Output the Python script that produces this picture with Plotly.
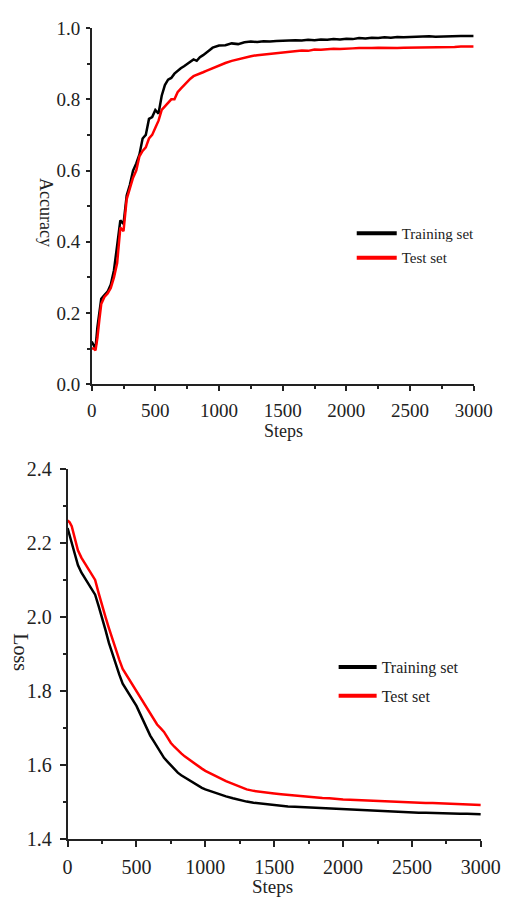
import plotly.graph_objects as go

W, H = 527, 908

steps = [0, 15, 30, 45, 60, 75,
         100, 125, 150, 175, 200, 225, 250, 275, 300, 325, 350, 375, 400, 425, 450, 475,
         500, 525, 550, 575, 600, 625, 650, 675, 700, 725, 750, 775, 800, 825, 850, 875,
         900, 925, 950, 975, 1000,
         1050, 1100, 1150, 1200, 1250, 1300, 1350, 1400, 1450, 1500,
         1550, 1600, 1650, 1700, 1750, 1800, 1850, 1900, 1950, 2000,
         2050, 2100, 2150, 2200, 2250, 2300, 2350, 2400, 2450, 2500,
         2550, 2600, 2650, 2700, 2750, 2800, 2850, 2900, 2950, 3000]

acc_train = [0.12, 0.11, 0.10, 0.16, 0.20, 0.24,
             0.25, 0.26, 0.28, 0.32, 0.39, 0.46, 0.45, 0.53, 0.56, 0.60, 0.62, 0.645, 0.69, 0.70, 0.745, 0.75,
             0.77, 0.76, 0.81, 0.84, 0.855, 0.86, 0.872, 0.88, 0.887, 0.893, 0.90, 0.905, 0.912, 0.908, 0.918, 0.924,
             0.93, 0.938, 0.945, 0.947, 0.951,
             0.952, 0.957, 0.955, 0.960, 0.962, 0.961, 0.963, 0.962, 0.964, 0.965,
             0.964, 0.966, 0.965, 0.967, 0.966, 0.968, 0.967, 0.969, 0.968, 0.970,
             0.969, 0.972, 0.971, 0.973, 0.972, 0.974, 0.973, 0.975, 0.974, 0.975,
             0.976, 0.975, 0.977, 0.976, 0.977, 0.978, 0.977, 0.978, 0.978, 0.978]

acc_test = [0.10, 0.10, 0.095, 0.13, 0.18, 0.225,
            0.245, 0.255, 0.27, 0.30, 0.34, 0.44, 0.43, 0.52, 0.55, 0.58, 0.60, 0.64, 0.655, 0.665, 0.69, 0.70,
            0.72, 0.74, 0.77, 0.78, 0.79, 0.80, 0.80, 0.82, 0.83, 0.84, 0.85, 0.858, 0.865, 0.868, 0.872, 0.876,
            0.88, 0.884, 0.888, 0.892, 0.895,
            0.902, 0.908, 0.913, 0.918, 0.921, 0.924, 0.926, 0.928, 0.930, 0.932,
            0.933, 0.935, 0.937, 0.936, 0.940, 0.939, 0.941, 0.942, 0.941, 0.943,
            0.943, 0.944, 0.943, 0.944, 0.945, 0.944, 0.945, 0.944, 0.945, 0.945,
            0.946, 0.945, 0.946, 0.946, 0.947, 0.946, 0.947, 0.948, 0.947, 0.948]

loss_train = [2.24, 2.22, 2.20, 2.175, 2.16, 2.14,
              2.12, 2.105, 2.09, 2.075, 2.06, 2.03, 2.00, 1.965, 1.93, 1.90, 1.87, 1.845, 1.82, 1.805, 1.79, 1.775,
              1.76, 1.74, 1.72, 1.70, 1.68, 1.665, 1.65, 1.635, 1.62, 1.61, 1.60, 1.59, 1.58, 1.573, 1.567, 1.561,
              1.555, 1.55, 1.544, 1.539, 1.535,
              1.528, 1.521, 1.516, 1.511, 1.506, 1.502, 1.499, 1.497, 1.494, 1.492,
              1.491, 1.489, 1.488, 1.487, 1.486, 1.485, 1.484, 1.483, 1.482, 1.481,
              1.480, 1.479, 1.478, 1.477, 1.476, 1.475, 1.475, 1.474, 1.474, 1.473,
              1.472, 1.472, 1.471, 1.471, 1.470, 1.470, 1.469, 1.469, 1.468, 1.468]

loss_test = [2.26, 2.255, 2.245, 2.225, 2.205, 2.18,
             2.16, 2.145, 2.13, 2.115, 2.10, 2.065, 2.03, 2.00, 1.97, 1.94, 1.91, 1.885, 1.86, 1.845, 1.83, 1.815,
             1.80, 1.785, 1.77, 1.755, 1.74, 1.725, 1.71, 1.70, 1.69, 1.675, 1.66, 1.65, 1.64, 1.632, 1.624, 1.617,
             1.61, 1.603, 1.597, 1.591, 1.585,
             1.575, 1.565, 1.557, 1.550, 1.542, 1.535, 1.531, 1.528, 1.526, 1.524,
             1.522, 1.520, 1.518, 1.516, 1.515, 1.513, 1.512, 1.511, 1.509, 1.508,
             1.507, 1.506, 1.505, 1.504, 1.503, 1.502, 1.501, 1.501, 1.500, 1.500,
             1.499, 1.498, 1.498, 1.497, 1.496, 1.496, 1.495, 1.495, 1.494, 1.493]

series_names = ["Training set", "Test set"]
series_colors = ["black", "#ff0000"]

x_ticks = [0, 500, 1000, 1500, 2000, 2500, 3000]
acc_ticks = [0.0, 0.2, 0.4, 0.6, 0.8, 1.0]
loss_ticks = [1.4, 1.6, 1.8, 2.0, 2.2, 2.4]

FONT = "Liberation Serif"
INK = "#222222"

fig = go.Figure()
# data curves
for vals, col, xa, ya in [(acc_train, series_colors[0], "x", "y"),
                          (acc_test, series_colors[1], "x", "y"),
                          (loss_train, series_colors[0], "x2", "y2"),
                          (loss_test, series_colors[1], "x2", "y2")]:
    fig.add_trace(go.Scatter(x=steps, y=vals, mode="lines", showlegend=False,
                             line=dict(color=col, width=2.5), xaxis=xa, yaxis=ya))
# legend entries (thicker line swatches, as in the reference)
for lg, xa, ya in [("legend", "x", "y"), ("legend2", "x2", "y2")]:
    for i, (nm, col) in enumerate(zip(series_names, series_colors)):
        fig.add_trace(go.Scatter(x=[None], y=[None], mode="lines", name=nm,
                                 line=dict(color=col, width=4), xaxis=xa, yaxis=ya,
                                 legend=lg, legendgroup=f"{lg}{i}"))

def px_x(p):
    return p / W

def px_y(p):
    return 1 - p / H

def axis(size, ticklen, standoff, minor_dtick):
    return dict(showline=True, linecolor=INK, linewidth=1.5, ticks="outside",
                tickcolor=INK, tickwidth=1.5, ticklen=ticklen, showgrid=False,
                zeroline=False, ticklabelstandoff=standoff,
                tickfont=dict(family=FONT, size=size, color=INK),
                minor=dict(ticks="outside", dtick=minor_dtick, ticklen=3,
                           tickcolor=INK, tickwidth=1.5))

fig.update_layout(
    width=W, height=H, margin=dict(l=0, r=0, t=0, b=0),
    paper_bgcolor="white", plot_bgcolor="white",
    font=dict(family=FONT, color=INK),
    xaxis=dict(domain=[px_x(91), px_x(492)], range=[0, 3000], anchor="y",
               tickvals=x_ticks, **axis(19, 5, 3, 250)),
    yaxis=dict(domain=[px_y(382.5), px_y(17.5)], range=[0, 1], anchor="x",
               tickvals=acc_ticks, tickformat=".1f", **axis(19, 4, 2, 0.1)),
    xaxis2=dict(domain=[px_x(65.7), px_x(499.5)], range=[0, 3000], anchor="y2",
                tickvals=x_ticks, **axis(20, 6, 3, 250)),
    yaxis2=dict(domain=[px_y(849), px_y(469)], range=[1.4, 2.4], anchor="x2",
                tickvals=loss_ticks, tickformat=".1f", **axis(20, 6, 4, 0.1)),
    legend=dict(x=px_x(364), y=px_y(211), xanchor="left", yanchor="top",
                bgcolor="rgba(0,0,0,0)", font=dict(family=FONT, size=15, color=INK),
                traceorder="grouped", tracegroupgap=2, itemwidth=40),
    legend2=dict(x=px_x(345), y=px_y(655), xanchor="left", yanchor="top",
                 bgcolor="rgba(0,0,0,0)", font=dict(family=FONT, size=16, color=INK),
                 traceorder="grouped", tracegroupgap=5, itemwidth=38),
    annotations=[
        dict(text="Steps", x=px_x(292), y=px_y(430), xref="paper", yref="paper",
             xanchor="center", yanchor="middle", showarrow=False,
             font=dict(family=FONT, size=18, color=INK)),
        dict(text="Accuracy", x=px_x(43), y=px_y(207), xref="paper", yref="paper",
             xanchor="center", yanchor="middle", showarrow=False, textangle=90,
             font=dict(family=FONT, size=18, color=INK)),
        dict(text="Steps", x=px_x(281), y=px_y(897), xref="paper", yref="paper",
             xanchor="center", yanchor="middle", showarrow=False,
             font=dict(family=FONT, size=19, color=INK)),
        dict(text="Loss", x=px_x(16.5), y=px_y(657), xref="paper", yref="paper",
             xanchor="center", yanchor="middle", showarrow=False, textangle=90,
             font=dict(family=FONT, size=20, color=INK)),
    ],
)

fig.write_html("out.html", config={"displayModeBar": False},
               post_script="document.body.style.margin='0';")
